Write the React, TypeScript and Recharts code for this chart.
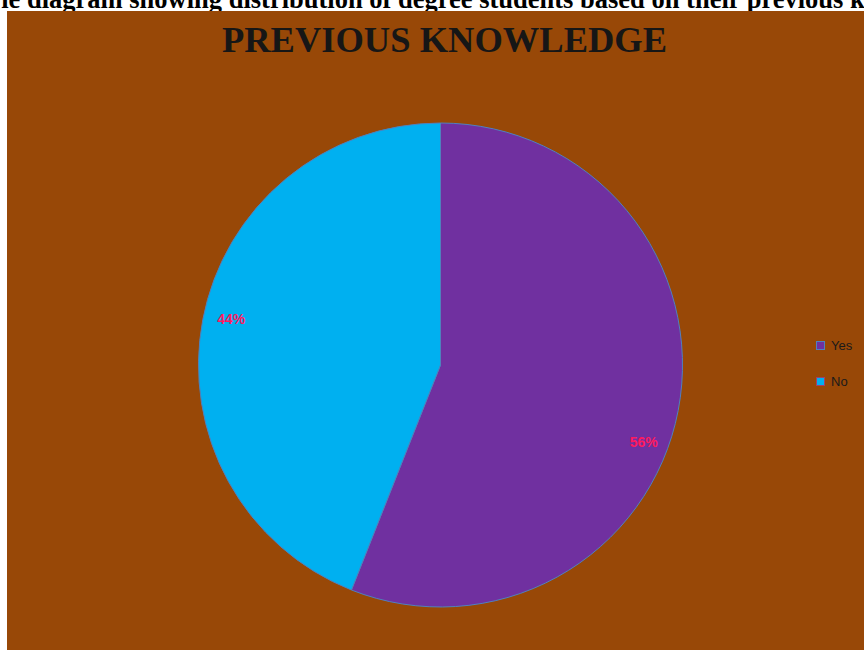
import React from 'react';
import { Cell, Legend, Pie, PieChart } from 'recharts';

// Pie "PREVIOUS KNOWLEDGE" — Excel-like look: brown plot area, purple/cyan slices, pink labels.
const CATEGORIES = ['Yes', 'No'];
const SHARES = [56, 44];
const COLORS = ['#7030A0', '#00B0F0'];
const SWATCH_BORDERS = ['#4F81BD', '#A0406A'];

const BROWN = '#984807';
const CAPTION = 'Pie diagram showing distribution of degree students based on their previous knowledge';
const TITLE = 'PREVIOUS KNOWLEDGE';

const data = CATEGORIES.map((name, i) => ({ name, value: SHARES[i] }));

const RAD = Math.PI / 180;

function PctLabel(props: any) {
  const { cx, cy, midAngle, outerRadius, value, index } = props;
  const r = outerRadius * 0.88;
  const x = cx + r * Math.cos(-midAngle * RAD) + (index === 0 ? -6 : 0);
  const y = cy + r * Math.sin(-midAngle * RAD) + (index === 0 ? 37 : -6);
  return (
    <text x={x} y={y} fill="#FF1A5E" fontFamily="'Liberation Sans', Arial, sans-serif" fontSize={14} fontWeight="bold" textAnchor="middle" dominantBaseline="central">
      {`${value}%`}
    </text>
  );
}

function LegendBox() {
  return (
    <div style={{ fontFamily: "'Liberation Sans', Arial, sans-serif", fontSize: 13, color: '#1a1a1a' }}>
      {CATEGORIES.map((name, i) => (
        <div key={name} style={{ display: 'flex', alignItems: 'center', height: 18, marginBottom: i === 0 ? 18 : 0 }}>
          <span style={{ display: 'inline-block', width: 7, height: 7, background: COLORS[i], border: `1px solid ${SWATCH_BORDERS[i]}`, marginRight: 6 }} />
          {name}
        </div>
      ))}
    </div>
  );
}

export default function App() {
  return (
    <div style={{ position: 'absolute', left: 0, top: 0, width: 864, height: 650, overflow: 'hidden', background: '#fff' }}>
      <div
        style={{
          position: 'absolute',
          left: -15,
          top: -14,
          whiteSpace: 'nowrap',
          fontFamily: "'Liberation Serif', 'Times New Roman', serif",
          fontWeight: 'bold',
          fontSize: 26.5,
          lineHeight: '26px',
          color: '#000',
        }}
      >
        {CAPTION}
      </div>
      <div style={{ position: 'absolute', left: 7, top: 11, width: 857, height: 639, background: BROWN }}>
        <div
          style={{
            position: 'absolute',
            left: 0,
            width: 875,
            top: 9,
            textAlign: 'center',
            fontFamily: "'Liberation Serif', 'Times New Roman', serif",
            fontWeight: 'bold',
            fontSize: 36.5,
            lineHeight: '40px',
            color: '#161616',
          }}
        >
          {TITLE}
        </div>
        <PieChart width={857} height={639} style={{ position: 'absolute', left: 0, top: 0 }}>
          <Pie
            data={data}
            dataKey="value"
            nameKey="name"
            cx={428.5}
            cy={349}
            outerRadius={242}
            startAngle={90}
            endAngle={-270}
            stroke="#4F81BD"
            strokeWidth={1}
            label={PctLabel}
            labelLine={false}
            isAnimationActive={false}
          >
            {data.map((d, i) => (
              <Cell key={d.name} fill={COLORS[i]} />
            ))}
          </Pie>
          <Legend content={<LegendBox />} wrapperStyle={{ left: 809, top: 325, width: 50 }} />
        </PieChart>
      </div>
    </div>
  );
}
